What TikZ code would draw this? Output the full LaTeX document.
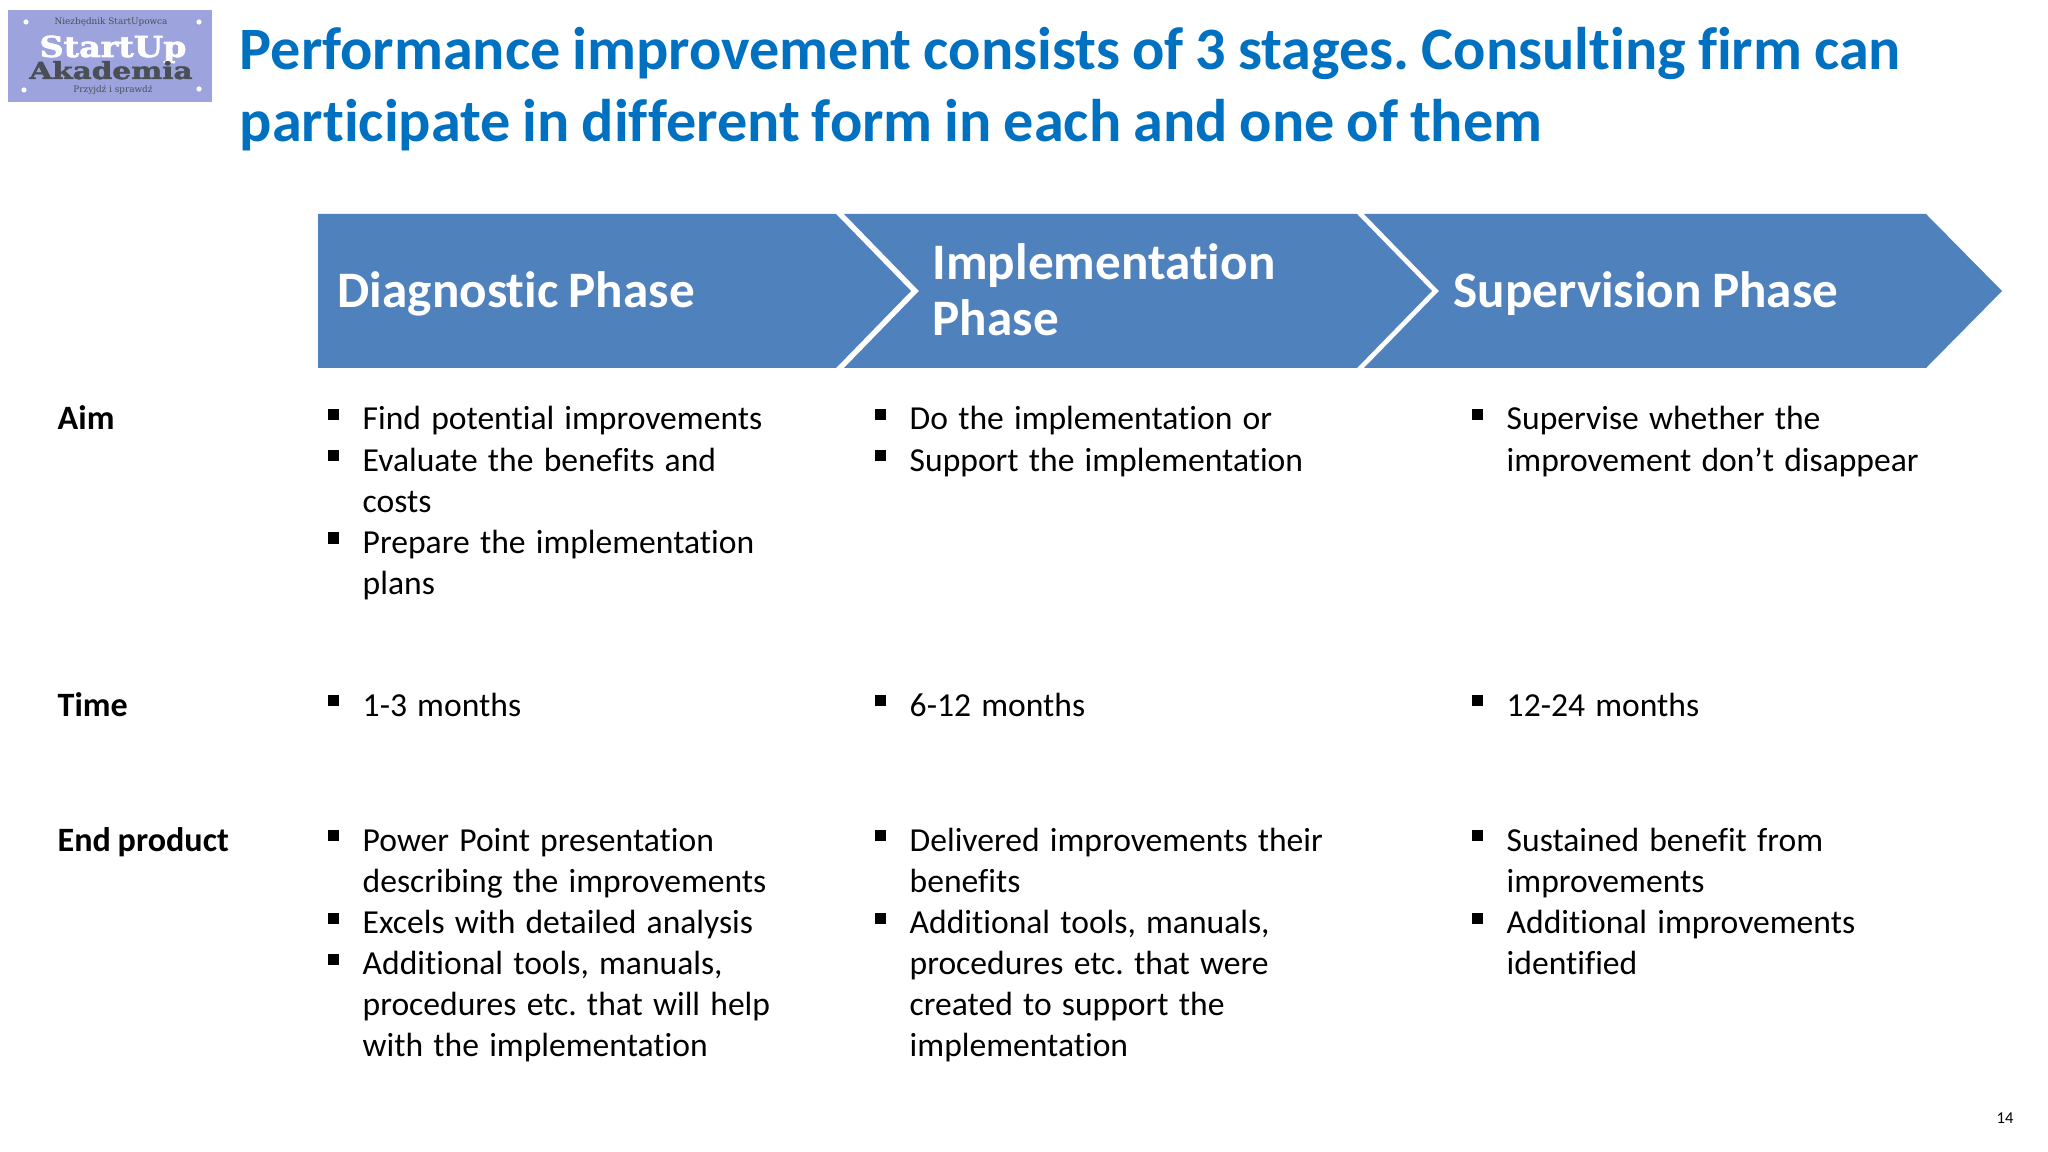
\documentclass[tikz,border=0pt]{standalone}
\usepackage{fontspec}
\usepackage{graphicx}
\setmainfont[Ligatures=NoCommon,WordSpace=0.88]{Carlito}
\newfontfamily\slabfont[BoldFeatures={FakeBold=2}]{DejaVu Serif}
\usetikzlibrary{positioning}
\frenchspacing
\definecolor{phaseblue}{HTML}{4F81BD}
\definecolor{titleblue}{HTML}{0070C0}
\definecolor{logoblue}{HTML}{9DA3DC}
\definecolor{logogrey}{HTML}{4A4F55}
\newcommand{\itm}[1]{\leftskip=0.35cm\spaceskip=2.9pt\relax\leavevmode\llap{\makebox[0.35cm][l]{\raisebox{0.095cm}{\rule{0.11cm}{0.11cm}}}}#1\par}
\tikzset{
    phasearrow/.style={fill=phaseblue},
    phasetext/.style={anchor=west,inner sep=0pt,text=white,align=left,font=\fontsize{14.55}{16}\selectfont\bfseries},
    rowlabel/.style={anchor=base west,inner sep=0pt,font=\fontsize{9.7}{11.66}\selectfont\bfseries},
    celltext/.style={anchor=base west,inner sep=0pt,text width=#1,font=\fontsize{9.55}{11.66}\selectfont},
    celltext/.default=4.9cm,
    dottext/.style={inner sep=0pt,text=logogrey,font=\fontsize{2.52}{3}\selectfont\slabfont},
    logotext/.style={anchor=base,inner sep=0pt,font=\slabfont\bfseries}
}
\begin{document}
\begin{tikzpicture}[x=0.01cm,y=-0.01cm]
    \useasboundingbox (0,0) rectangle (2048,1152);

    % logo
    \fill[logoblue] (8,10) rectangle (212,102);
    \foreach \px/\py in {26/22,199/22,24/90,199/89} \fill[white] (\px,\py) circle[radius=2.6];
    \node[dottext] (logotop) at (111,22) {Niezbędnik StartUpowca};
    \node[logotext,text=white] (logostart) at (113,57) {\scalebox{1.16}[1]{\fontsize{8.2}{9}\selectfont StartUp}};
    \node[logotext,text=logogrey] (logoaka) at (111,79) {\scalebox{1.25}[1]{\fontsize{6.7}{8}\selectfont Akademia}};
    \node[dottext] (logobottom) at (113,90) {Przyjdź i sprawdź};

    % title
    \node[anchor=base west,inner sep=0pt,text=titleblue,align=left,font=\fontsize{17.12}{20.5}\selectfont\bfseries] (title) at (239,142)
        {Performance improvement consists of 3 stages. Consulting firm can\\participate in different form in each and one of them};

    % phases
    \fill[phasearrow] (318,214) -- (836,214) -- (911,291) -- (836,368) -- (318,368) -- cycle;
    \fill[phasearrow] (844,214) -- (1357,214) -- (1432,291) -- (1357,368) -- (844,368) -- (919,291) -- cycle;
    \fill[phasearrow] (1364,214) -- (1926,214) -- (2002,291) -- (1926,368) -- (1364,368) -- (1439,291) -- cycle;
    \node[phasetext] (diagnostic) at (337,294) {Diagnostic Phase};
    \node[phasetext] (implementation) at (932,290) {Implementation\\Phase};
    \node[phasetext] (supervision) at (1453,294) {Supervision Phase};

    % rows
    \node[rowlabel] (aim) at (57,430) {Aim};
    \node[rowlabel] (time) at (57,716) {Time};
    \node[rowlabel] (endproduct) at (57,851) {End product};

    \node[celltext] (aimdiag) at (327,430) {\itm{Find potential improvements}\itm{Evaluate the benefits and\\costs}\itm{Prepare the implementation\\plans}};
    \node[celltext] (aimimpl) at (874,430) {\itm{Do the implementation or}\itm{Support the implementation}};
    \node[celltext] (aimsuper) at (1471,430) {\itm{Supervise whether the\\improvement don’t disappear}};

    \node[celltext] (timediag) at (327,716) {\itm{1-3 months}};
    \node[celltext] (timeimpl) at (874,716) {\itm{6-12 months}};
    \node[celltext] (timesuper) at (1471,716) {\itm{12-24 months}};

    \node[celltext] (enddiag) at (327,851) {\itm{Power Point presentation\\describing the improvements}\itm{Excels with detailed analysis}\itm{Additional tools, manuals,\\procedures etc. that will help\\with the implementation}};
    \node[celltext] (endimpl) at (874,851) {\itm{Delivered improvements their\\benefits}\itm{Additional tools, manuals,\\procedures etc. that were\\created to support the\\implementation}};
    \node[celltext] (endsuper) at (1471,851) {\itm{Sustained benefit from\\improvements}\itm{Additional improvements\\identified}};

    \node[inner sep=0pt,font=\fontsize{4.7}{5}\selectfont] (pagenum) at (2005,1118) {14};
\end{tikzpicture}
\end{document}
